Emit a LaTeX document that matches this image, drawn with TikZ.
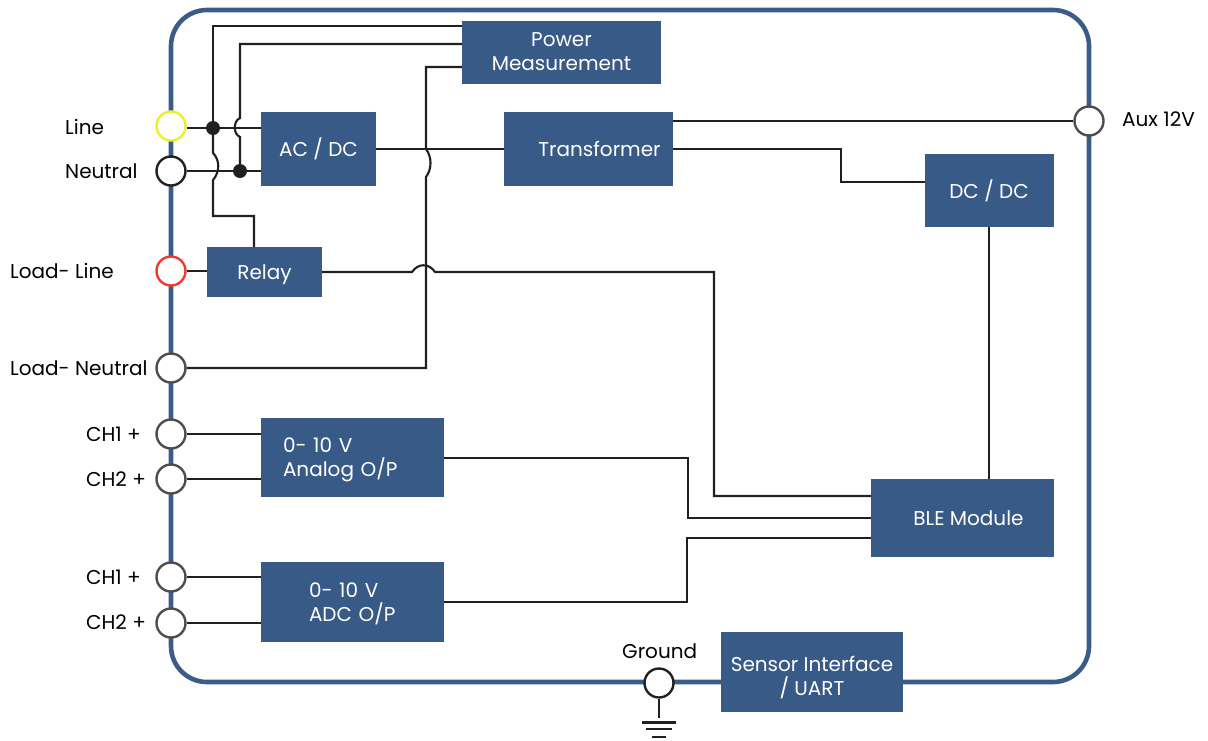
\documentclass[tikz,border=0pt]{standalone}
\usepackage{fontspec}
\setmainfont{Poppins}
\usepackage{xcolor}
\definecolor{frameBlue}{HTML}{3B5C88}
\definecolor{blockBlue}{HTML}{385A87}
\definecolor{wireBlack}{HTML}{231F20}
\definecolor{portGrey} {HTML}{4D4D4D}
\definecolor{portLine} {HTML}{E9F02C}
\definecolor{portLoad} {HTML}{F0382B}
\usetikzlibrary{arrows.meta, positioning, calc}

\begin{document}
\begin{tikzpicture}[
    x=1pt, y=-1pt,
    every node/.style={font=\fontsize{20}{24}\selectfont},
    block/.style={fill=blockBlue, text=white, align=center, inner sep=0pt},
    lblock/.style={block, align=left, inner xsep=22pt},
    port/.style={circle, draw=portGrey, fill=white, line width=2.4pt,
                 minimum size=29pt, inner sep=0pt},
    dot/.style={circle, fill=wireBlack, minimum size=14pt, inner sep=0pt},
    tag/.style={anchor=west, inner sep=0pt, text=black},
    wire/.style={draw=wireBlack, line width=2.1pt}
]
\useasboundingbox (0,0) rectangle (1208,740);
% Outer frame
\draw[frameBlue, line width=4.6pt, rounded corners=36pt] (171,10) rectangle (1089,682);
% Ports
\node[port, draw=portLine]   (line)   at (171,126) {};
\node[port, draw=wireBlack]  (neut)   at (171,171) {};
\node[port, draw=portLoad]   (lload)  at (171,271) {};
\node[port]                  (nload)  at (171,368) {};
\node[port]                  (cha1)   at (171,434) {};
\node[port]                  (cha2)   at (171,479) {};
\node[port]                  (chb1)   at (171,577) {};
\node[port]                  (chb2)   at (171,623) {};
\node[port]                  (aux)    at (1089,121) {};
\node[port, draw=wireBlack]  (gnd)    at (659,683) {};
% Port labels
\node[tag] (tline)  at (65,127)  {Line};
\node[tag] (tneut)  at (65,171)  {Neutral};
\node[tag] (tlload) at (10,271)  {Load- Line};
\node[tag] (tnload) at (10,368)  {Load- Neutral};
\node[tag] (tcha1)  at (86,434)  {CH1 +};
\node[tag] (tcha2)  at (86,479)  {CH2 +};
\node[tag] (tchb1)  at (86,577)  {CH1 +};
\node[tag] (tchb2)  at (86,622)  {CH2 +};
\node[tag] (taux)   at (1122,119) {Aux 12V};
\node[tag] (tgnd)   at (622,651) {Ground};
% Blocks
\node[block, minimum width=199pt, minimum height=63pt] (power) at (561.5,52) {Power\\Measurement};
\node[block, minimum width=115pt, minimum height=74pt] (acdc)  at (318.5,149) {AC / DC};
\node[block, minimum width=169pt, minimum height=74pt] (trans) at (588.5,149) {\hspace*{22pt}Transformer};
\node[block, minimum width=129pt, minimum height=73pt] (dcdc)  at (989,190.5) {DC / DC};
\node[block, minimum width=115pt, minimum height=50pt, text depth=0pt] (relay) at (264.5,272) {Relay};
\node[lblock, minimum width=183pt, minimum height=79pt, text width=139pt] (analog) at (352.5,457.5) {\rule{0pt}{19pt}0- 10 V\\Analog O/P};
\node[lblock, minimum width=183pt, minimum height=80pt, inner xsep=48pt, text width=87pt] (adc) at (352.5,602) {\rule{0pt}{18pt}0- 10 V\\ADC O/P};
\node[block, minimum width=183pt, minimum height=78pt] (ble) at (962.5,518) {\hspace*{12pt}BLE Module};
\node[block, minimum width=182pt, minimum height=80pt] (uart) at (812,671.5) {\rule{0pt}{28pt}Sensor Interface\\/ UART};
% Junctions
\node[dot] (jline) at (213,128) {};
\node[dot] (jneut) at (240,171) {};
% Ground symbol
\coordinate (earth) at (659,718);
\draw[wire] (gnd) -- (earth);
\draw[wire] ($(earth)+(-17,4.5)$) -- ++(34,0);
\draw[wire] ($(earth)+(-13,11)$) -- ++(26,0);
\draw[wire] ($(earth)+(-7,19)$) -- ++(14,0);
% Mains wires
\draw[wire] (line.east |- jline) -- (jline) -- (jline -| acdc.west);
\draw[wire] (neut) -- (jneut) -- (neut -| acdc.west);
\draw[wire] (jline) -- (213,26) -- (462,26);
\draw[wire] (jneut) -- (240,137) .. controls (233,134) and (233,121) .. (240,118)
            -- (240,44) -- (462,44);
\draw[wire] (jline) -- (213,153) .. controls (220,160) and (220,172) .. (213,180)
            -- (213,216) -- (254,216) -- (254,247);
% Neutral return
\draw[wire] (power.west |- 0,67) -- (426,67) -- (426,149)
            .. controls (432,157) and (432,169) .. (426,177)
            -- (426,368) -- (nload);
% Supply chain
\draw[wire] (acdc.east) -- (trans.west);
\draw[wire] (673,121) -- (aux);
\draw[wire] (673,149) -- (841,149) -- (841,182) -- (925,182);
\draw[wire] (dcdc.south) -- (dcdc.south |- ble.north);
% Relay to module
\draw[wire] (lload) -- (relay.west |- lload);
\draw[wire] (relay.east) -- (412,272) .. controls (418,263) and (429,263) .. (435,272)
            -- (714,272) -- (714,496) -- (871,496);
% Analog and ADC
\draw[wire] (cha1) -- (261,434);
\draw[wire] (cha2) -- (261,479);
\draw[wire] (chb1) -- (261,577);
\draw[wire] (chb2) -- (261,623);
\draw[wire] (444,458) -- (688,458) -- (688,518) -- (871,518);
\draw[wire] (444,602) -- (687,602) -- (687,538) -- (871,538);
\end{tikzpicture}
\end{document}
